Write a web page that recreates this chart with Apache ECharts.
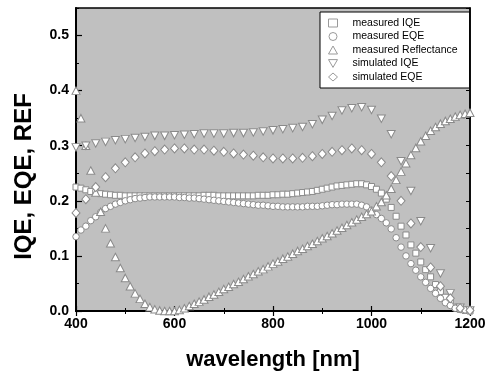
<!DOCTYPE html>
<html><head><meta charset="utf-8">
<script src="https://cdn.jsdelivr.net/npm/echarts@6/dist/echarts.min.js"></script>
<style>html,body{margin:0;padding:0;background:#fff}#c{width:492px;height:376px}</style>
</head><body><div id="c"></div>
<script>
const wavelength = [400,410,420,430,440,450,460,470,480,490,500,510,520,530,540,550,560,570,580,590,600,610,620,630,640,650,660,670,680,690,700,710,720,730,740,750,760,770,780,790,800,810,820,830,840,850,860,870,880,890,900,910,920,930,940,950,960,970,980,990,1000,1010,1020,1030,1040,1050,1060,1070,1080,1090,1100,1110,1120,1130,1140,1150,1160,1170,1180,1190,1200];
const measuredIQE = [0.225,0.223,0.220,0.217,0.215,0.213,0.212,0.211,0.210,0.210,0.209,0.209,0.209,0.209,0.209,0.209,0.209,0.209,0.209,0.209,0.209,0.209,0.209,0.209,0.209,0.209,0.210,0.210,0.210,0.209,0.209,0.209,0.209,0.209,0.209,0.209,0.209,0.210,0.210,0.210,0.211,0.211,0.212,0.212,0.213,0.214,0.215,0.216,0.217,0.219,0.221,0.223,0.225,0.227,0.228,0.229,0.230,0.231,0.231,0.229,0.226,0.221,0.214,0.203,0.188,0.172,0.154,0.138,0.120,0.105,0.089,0.075,0.062,0.048,0.035,0.025,0.015,0.007,0.003,0.001,0.000];
const measuredEQE = [0.135,0.147,0.154,0.164,0.171,0.179,0.186,0.190,0.194,0.197,0.200,0.202,0.204,0.205,0.206,0.207,0.207,0.207,0.207,0.207,0.207,0.206,0.206,0.205,0.205,0.204,0.203,0.202,0.201,0.200,0.199,0.198,0.197,0.196,0.195,0.194,0.193,0.192,0.192,0.191,0.190,0.190,0.189,0.189,0.189,0.189,0.189,0.190,0.190,0.190,0.191,0.192,0.193,0.193,0.194,0.194,0.194,0.194,0.192,0.189,0.183,0.175,0.168,0.160,0.149,0.133,0.116,0.100,0.086,0.074,0.062,0.052,0.041,0.032,0.023,0.015,0.010,0.005,0.003,0.002,0.001];
const measuredREF = [0.400,0.350,0.300,0.255,0.215,0.180,0.150,0.123,0.098,0.078,0.060,0.045,0.032,0.022,0.013,0.007,0.003,0.001,0.000,0.000,0.000,0.002,0.005,0.009,0.013,0.017,0.021,0.026,0.030,0.035,0.040,0.044,0.049,0.053,0.058,0.063,0.067,0.072,0.076,0.081,0.086,0.090,0.095,0.099,0.104,0.109,0.113,0.118,0.122,0.127,0.132,0.136,0.141,0.146,0.151,0.156,0.161,0.166,0.171,0.176,0.181,0.190,0.198,0.210,0.222,0.238,0.253,0.268,0.283,0.296,0.308,0.318,0.327,0.334,0.340,0.345,0.349,0.353,0.356,0.358,0.360];
const simWavelength = [400,420,440,460,480,500,520,540,560,580,600,620,640,660,680,700,720,740,760,780,800,820,840,860,880,900,920,940,960,980,1000,1020,1040,1060,1080,1100,1120,1140,1160,1180,1200];
const simulatedIQE = [0.297,0.300,0.304,0.307,0.310,0.312,0.314,0.316,0.318,0.318,0.319,0.320,0.321,0.322,0.322,0.322,0.323,0.323,0.324,0.326,0.328,0.330,0.332,0.334,0.339,0.347,0.354,0.364,0.368,0.370,0.365,0.349,0.321,0.272,0.218,0.163,0.114,0.068,0.032,0.006,0.001];
const simulatedEQE = [0.178,0.203,0.225,0.243,0.259,0.270,0.279,0.286,0.290,0.293,0.295,0.295,0.293,0.293,0.291,0.289,0.286,0.284,0.282,0.279,0.277,0.277,0.277,0.278,0.281,0.285,0.289,0.292,0.295,0.292,0.285,0.270,0.245,0.200,0.159,0.116,0.079,0.045,0.023,0.005,0.001];
const seriesNames = ['measured IQE','measured EQE','measured Reflectance','simulated IQE','simulated EQE'];
const xTitle = 'wavelength [nm]';
const yTitle = 'IQE, EQE, REF';

const FONT = 'Liberation Sans, Arial, sans-serif';
const zip = (xs, ys) => xs.map((x, i) => [x, ys[i]]);
const mk = {color:'#ffffff', borderColor:'#8a8a8a', borderWidth:1, opacity:1};
const downTri = 'path://M0,0L10,0L5,8.66Z';

const chart = echarts.init(document.getElementById('c'), null, {renderer:'canvas'});
chart.setOption({
  animation:false,
  backgroundColor:'#ffffff',
  textStyle:{fontFamily:FONT},
  grid:{left:76, right:22, top:8, bottom:65, show:true, backgroundColor:'#c0c0c0', borderColor:'#000', borderWidth:1.5, outerBoundsMode:'none', containLabel:false},
  legend:{
    orient:'vertical', left:320, top:12,
    padding:[5,12,5,8],
    backgroundColor:'#ffffff', borderColor:'#000', borderWidth:1,
    itemWidth:9, itemHeight:8, itemGap:1.5,
    symbolKeepAspect:true,
    itemStyle:{color:'rgba(0,0,0,0)', borderColor:'#9a9a9a', borderWidth:1},
    textStyle:{fontFamily:FONT, fontSize:10.5, lineHeight:12, color:'#000', padding:[0,0,0,10]},
    data:seriesNames
  },
  xAxis:[{
    type:'value', position:'bottom', min:400, max:1200, interval:200,
    name:xTitle, nameLocation:'middle', nameGap:38,
    nameTextStyle:{fontFamily:FONT, fontSize:22, fontWeight:'bold', color:'#000'},
    axisLine:{show:true, lineStyle:{color:'#000', width:2}},
    axisTick:{show:true, inside:true, length:5, lineStyle:{color:'#000', width:1.2}},
    minorTick:{show:true, splitNumber:2, length:3, lineStyle:{color:'#000', width:1}},
    axisLabel:{fontFamily:FONT, fontSize:14, fontWeight:'bold', color:'#000', margin:6, formatter:v => String(v)},
    splitLine:{show:false}, minorSplitLine:{show:false}
  },{
    type:'value', position:'top', min:400, max:1200, interval:200,
    axisLine:{show:true, lineStyle:{color:'#000', width:1.5}},
    axisTick:{show:true, inside:true, length:5, lineStyle:{color:'#000', width:1.2}},
    minorTick:{show:true, splitNumber:2, length:3, lineStyle:{color:'#000', width:1}},
    axisLabel:{show:false}, splitLine:{show:false}
  }],
  yAxis:[{
    type:'value', position:'left', min:0, max:0.55, interval:0.1,
    name:yTitle, nameLocation:'middle', nameGap:40, nameRotate:90,
    nameTextStyle:{fontFamily:FONT, fontSize:24, fontWeight:'bold', color:'#000', padding:[0,34,0,0]},
    axisLine:{show:true, lineStyle:{color:'#000', width:2}},
    axisTick:{show:true, inside:true, length:6, lineStyle:{color:'#000', width:1.2}},
    axisLabel:{fontFamily:FONT, fontSize:14, fontWeight:'bold', color:'#000', margin:7, showMaxLabel:false, formatter:v => v.toFixed(1)},
    splitLine:{show:false}
  },{
    type:'value', position:'left', min:0, max:0.55, interval:0.05,
    axisLine:{show:false},
    axisTick:{show:true, inside:true, length:3, lineStyle:{color:'#000', width:1}},
    axisLabel:{show:false}, splitLine:{show:false}
  },{
    type:'value', position:'right', min:0, max:0.55, interval:0.05,
    axisLine:{show:true, lineStyle:{color:'#000', width:1.5}},
    axisTick:{show:true, inside:true, length:4, lineStyle:{color:'#000', width:1}},
    axisLabel:{show:false}, splitLine:{show:false}
  }],
  series:[
    {name:seriesNames[0], type:'scatter', symbol:'rect', symbolSize:6, itemStyle:mk, data:zip(wavelength, measuredIQE), z:3},
    {name:seriesNames[1], type:'scatter', symbol:'circle', symbolSize:6.5, itemStyle:mk, data:zip(wavelength, measuredEQE), z:3},
    {name:seriesNames[2], type:'scatter', symbol:'triangle', symbolSize:[8,7.5], itemStyle:mk, data:zip(wavelength, measuredREF), z:3},
    {name:seriesNames[3], type:'scatter', symbol:downTri, symbolSize:[8,7.5], itemStyle:mk, data:zip(simWavelength, simulatedIQE), z:3},
    {name:seriesNames[4], type:'scatter', symbol:'diamond', symbolSize:[8,9], itemStyle:mk, data:zip(simWavelength, simulatedEQE), z:3}
  ]
});
</script></body></html>
